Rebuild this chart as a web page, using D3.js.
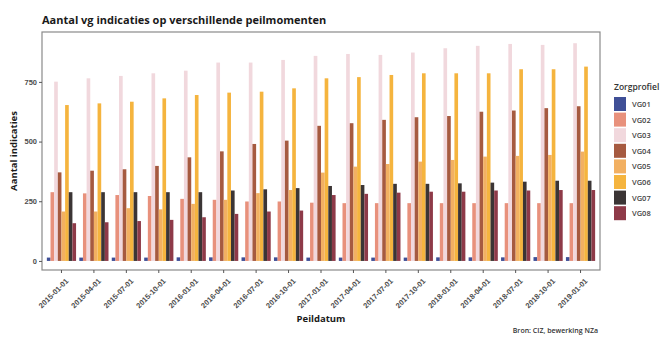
<!DOCTYPE html>
<html>
<head>
<meta charset="utf-8">
<script src="https://cdn.jsdelivr.net/npm/d3@7"></script>
<style>
  html, body { margin: 0; padding: 0; background: #fff; }
  svg { display: block; font-family: "Open Sans", "DejaVu Sans", sans-serif; }
</style>
</head>
<body>
<svg id="chart" width="664" height="340"></svg>
<script>
const dates = ["2015-01-01","2015-04-01","2015-07-01","2015-10-01","2016-01-01","2016-04-01","2016-07-01","2016-10-01","2017-01-01","2017-04-01","2017-07-01","2017-10-01","2018-01-01","2018-04-01","2018-07-01","2018-10-01","2019-01-01"];
const series = ["VG01","VG02","VG03","VG04","VG05","VG06","VG07","VG08"];
const colors = ["#3f4f96","#e8917c","#f1d8dd","#a65a40","#f2b062","#f5b43e","#3b3535","#8e3a48"];
const VG01 = [14,14,14,14,15,15,15,15,14,14,14,14,15,15,15,16,16];
const VG02 = [288,283,276,272,260,256,249,249,244,242,242,242,242,242,242,242,242];
const VG03 = [751,765,775,786,797,831,831,842,859,867,863,873,891,901,909,905,912];
const VG04 = [371,378,384,398,434,459,490,504,566,577,591,602,607,625,630,640,648];
const VG05 = [207,207,221,216,239,256,284,297,370,395,406,416,423,437,440,444,458];
const VG06 = [653,660,667,681,695,705,709,723,765,770,779,786,786,786,803,803,814];
const VG07 = [288,288,288,288,288,295,300,305,314,318,323,323,325,328,332,336,336];
const VG08 = [158,162,167,172,183,197,207,211,276,281,286,290,290,295,295,297,297];
const yTicks = [0,250,500,750];

const values = {VG01, VG02, VG03, VG04, VG05, VG06, VG07, VG08};
const rows = [];
dates.forEach((d, i) => series.forEach((s, j) => rows.push({date: d, series: s, value: values[s][i]})));

const svg = d3.select("#chart");
const panel = {left: 42, right: 600, top: 32, bottom: 270};

const x0 = d3.scaleBand().domain(dates).range([panel.left, panel.right]).paddingInner(0.1).paddingOuter(0.15);
const x1 = d3.scaleBand().domain(series).range([0, x0.bandwidth()]);
const y = d3.scaleLinear().domain([-38, 959]).range([panel.bottom, panel.top]);
const color = d3.scaleOrdinal().domain(series).range(colors);

// bars
svg.append("g").selectAll("rect").data(rows).join("rect")
  .attr("x", d => x0(d.date) + x1(d.series))
  .attr("width", x1.bandwidth())
  .attr("y", d => y(d.value))
  .attr("height", d => y(0) - y(d.value))
  .attr("fill", d => color(d.series));

// panel border
svg.append("rect")
  .attr("x", panel.left).attr("y", panel.top)
  .attr("width", panel.right - panel.left).attr("height", panel.bottom - panel.top)
  .attr("fill", "none").attr("stroke", "#8a8a8a").attr("stroke-width", 1.2);

// y axis
const yAxis = svg.append("g").attr("transform", `translate(${panel.left},0)`)
  .call(d3.axisLeft(y).tickValues(yTicks).tickSize(3).tickPadding(2).tickFormat(d3.format("d")));
yAxis.select(".domain").remove();
yAxis.selectAll("line").attr("stroke", "#555");
yAxis.selectAll("text").attr("fill", "#4d4d4d").style("font-size", "7.5px").style("font-weight", "600");

// x axis
const xAxis = svg.append("g").attr("transform", `translate(0,${panel.bottom})`)
  .call(d3.axisBottom(x0).tickSize(3).tickPadding(2));
xAxis.select(".domain").remove();
xAxis.selectAll("line").attr("stroke", "#555");
xAxis.selectAll("text")
  .attr("fill", "#4d4d4d").style("font-size", "7.5px").style("font-weight", "600")
  .attr("text-anchor", "end")
  .attr("dx", "0").attr("dy", "0")
  .attr("transform", "translate(4,8) rotate(-45)");

// titles
svg.append("text").attr("x", 42).attr("y", 24)
  .style("font-size", "11px").style("font-weight", "700").attr("fill", "#1a1a1a")
  .text("Aantal vg indicaties op verschillende peilmomenten");

svg.append("text")
  .attr("transform", `translate(17,${(panel.top + panel.bottom) / 2}) rotate(-90)`)
  .attr("text-anchor", "middle")
  .style("font-size", "9.5px").style("font-weight", "700").attr("fill", "#1a1a1a")
  .text("Aantal indicaties");

svg.append("text")
  .attr("x", (panel.left + panel.right) / 2).attr("y", 322)
  .attr("text-anchor", "middle")
  .style("font-size", "9.5px").style("font-weight", "700").attr("fill", "#1a1a1a")
  .text("Peildatum");

svg.append("text")
  .attr("x", 598).attr("y", 333)
  .attr("text-anchor", "end")
  .style("font-size", "7px").style("font-weight", "600").attr("fill", "#333")
  .text("Bron: CIZ, bewerking NZa");

// legend
const legend = svg.append("g").attr("transform", "translate(614,0)");
legend.append("text").attr("x", 0).attr("y", 90)
  .style("font-size", "8.5px").style("font-weight", "600").attr("fill", "#333")
  .text("Zorgprofiel");
const items = legend.selectAll("g.item").data(series).join("g")
  .attr("class", "item")
  .attr("transform", (d, i) => `translate(0,${97 + i * 15.6})`);
items.append("rect").attr("width", 12).attr("height", 14).attr("fill", d => color(d));
items.append("text").attr("x", 18).attr("y", 10)
  .style("font-size", "7.5px").style("font-weight", "600").attr("fill", "#444")
  .text(d => d);
</script>
</body>
</html>
